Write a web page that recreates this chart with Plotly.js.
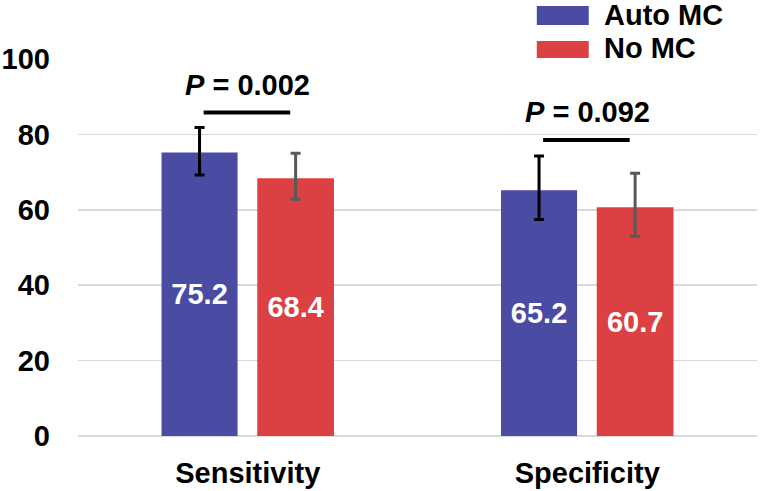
<!DOCTYPE html>
<html>
<head>
<meta charset="utf-8">
<script src="https://cdn.plot.ly/plotly-3.0.1.min.js"></script>
<style>html,body{margin:0;padding:0;background:#fff;}#chart{width:760px;height:491px;}</style>
</head>
<body>
<div id="chart"></div>
<script>
// ---- data ----
var categories = ["Sensitivity", "Specificity"];
var seriesNames = ["Auto MC", "No MC"];
var autoMC = [75.2, 65.2];
var autoMCErrPlus = [6.6, 9.1];
var autoMCErrMinus = [6.0, 7.8];
var noMC = [68.4, 60.7];
var noMCErrPlus = [6.6, 9.0];
var noMCErrMinus = [5.6, 7.7];
var pLabels = ["0.002", "0.092"];
var pTextY = [93.2, 86.0];
var pLineY = [85.8, 78.5];
var yTicks = [0, 20, 40, 60, 80, 100];

// ---- style ----
var FONT = "Liberation Sans, Arial, Helvetica, sans-serif";
var FS = 29;
var BLUE = "#4a4ba3";
var RED = "#db4043";

function fmt(v){ return v.toFixed(1); }

var traces = [
  {
    type: "bar", name: seriesNames[0], x: categories, y: autoMC,
    width: 0.224, offset: -0.254,
    marker: {color: BLUE},
    text: autoMC.map(fmt), textposition: "inside", insidetextanchor: "middle",
    constraintext: "none",
    textfont: {family: FONT, size: FS, color: "#ffffff", weight: "bold"},
    error_y: {type: "data", symmetric: false, array: autoMCErrPlus, arrayminus: autoMCErrMinus,
              color: "#000000", thickness: 3, width: 5},
    hoverinfo: "skip"
  },
  {
    type: "bar", name: seriesNames[1], x: categories, y: noMC,
    width: 0.226, offset: 0.028,
    marker: {color: RED},
    text: noMC.map(fmt), textposition: "inside", insidetextanchor: "middle",
    constraintext: "none",
    textfont: {family: FONT, size: FS, color: "#ffffff", weight: "bold"},
    error_y: {type: "data", symmetric: false, array: noMCErrPlus, arrayminus: noMCErrMinus,
              color: "#595959", thickness: 3, width: 5},
    hoverinfo: "skip"
  }
];

var annotations = [];
var shapes = [];
categories.forEach(function(c, i){
  annotations.push({
    xref: "x", yref: "y", x: i, y: pTextY[i], showarrow: false,
    text: "<i>P</i> = " + pLabels[i],
    font: {family: FONT, size: FS, color: "#000", weight: "bold"},
    xanchor: "center", yanchor: "middle"
  });
  shapes.push({
    type: "line", xref: "x", yref: "y", x0: i - 0.13, x1: i + 0.125,
    y0: pLineY[i], y1: pLineY[i], line: {color: "#000", width: 4}
  });
});

// custom legend
var legColors = [BLUE, RED];
var legRectY = [[1.0903, 1.1407], [1.0027, 1.0478]];
var legTextY = [1.118, 1.028];
seriesNames.forEach(function(n, i){
  shapes.push({
    type: "rect", xref: "paper", yref: "paper", x0: 0.6757, x1: 0.7522,
    y0: legRectY[i][0], y1: legRectY[i][1], fillcolor: legColors[i], line: {width: 0}
  });
  annotations.push({
    xref: "paper", yref: "paper", x: 0.7728, y: legTextY[i], showarrow: false,
    text: n, xanchor: "left", yanchor: "middle", borderpad: 0,
    font: {family: FONT, size: FS, color: "#000", weight: "bold"}
  });
});

var layout = {
  width: 760, height: 491,
  margin: {l: 77.5, r: 2.5, t: 59, b: 55.3, pad: 0},
  paper_bgcolor: "#ffffff", plot_bgcolor: "#ffffff",
  showlegend: false,
  barmode: "overlay",
  font: {family: FONT, color: "#000"},
  xaxis: {
    type: "category", range: [-0.5, 1.5],
    showgrid: false, showline: false, zeroline: false,
    ticks: "", ticklabelstandoff: 17,
    tickfont: {family: FONT, size: FS, color: "#000", weight: "bold"}
  },
  yaxis: {
    range: [0, 100], tickvals: yTicks,
    showgrid: true, gridcolor: "#d9d9d9", gridwidth: 1.5,
    zeroline: true, zerolinecolor: "#d9d9d9", zerolinewidth: 1.5,
    showline: false, ticks: "", ticklabelstandoff: 27,
    tickfont: {family: FONT, size: FS, color: "#000", weight: "bold"}
  },
  annotations: annotations,
  shapes: shapes
};

Plotly.newPlot("chart", traces, layout, {staticPlot: true, displayModeBar: false});
</script>
</body>
</html>
